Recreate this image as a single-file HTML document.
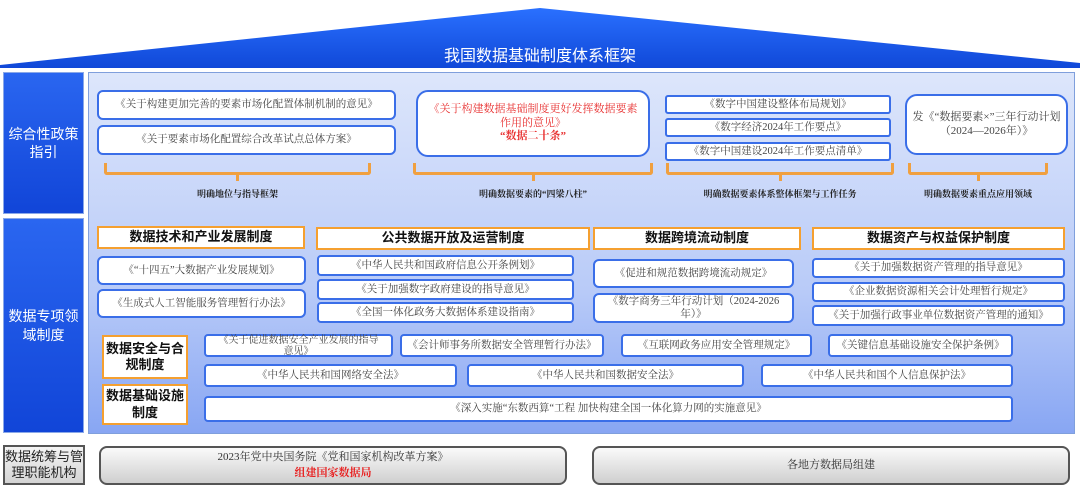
<!DOCTYPE html>
<html><head><meta charset="utf-8"><style>
*{margin:0;padding:0;box-sizing:border-box}
body{width:1080px;height:489px;background:#fff;position:relative;overflow:hidden;font-family:"Liberation Serif","Noto Serif CJK SC",serif;}
.a{position:absolute}
.b{position:absolute;background:#fff;border:2px solid #3a6ee8;border-radius:6px;display:flex;align-items:center;justify-content:center;text-align:center;font-size:10.5px;color:#444;line-height:1.25}
.h{position:absolute;background:#fff;border:2.5px solid #f5a030;display:flex;align-items:center;justify-content:center;text-align:center;font-family:"Liberation Sans","Noto Sans CJK SC",sans-serif;font-weight:bold;font-size:13px;color:#111;line-height:1.25}
.side{position:absolute;background:linear-gradient(#2a66f0,#1145d8);color:#fff;font-family:"Liberation Sans","Noto Sans CJK SC",sans-serif;font-size:14px;display:flex;align-items:center;justify-content:center;text-align:center;line-height:1.3;border:1px solid #8aa8e8}
.br{position:absolute;border:3px solid #f0a040;border-top:none;height:12px;border-radius:0 0 3px 3px}
.br::after{content:"";position:absolute;left:50%;bottom:-9px;width:3px;height:8px;background:#f0a040;margin-left:-1.5px}
.lb{position:absolute;font-size:9px;font-weight:bold;color:#222;text-align:center}
.g{position:absolute;border:2px solid #555;border-radius:8px;background:linear-gradient(#fafafa,#cfcfcf);display:flex;flex-direction:column;align-items:center;justify-content:center;font-size:11px;color:#333;line-height:1.4}
</style></head><body>
<svg class="a" style="left:0;top:0" width="1080" height="70"><defs><linearGradient id="rg" x1="0" y1="0" x2="0" y2="1"><stop offset="0" stop-color="#2a70ff"/><stop offset="1" stop-color="#1048d8"/></linearGradient></defs><polygon points="0,65 540,8 1080,63 1080,68 0,68" fill="url(#rg)"/></svg>
<div class="a" style="left:0;top:42px;width:1080px;text-align:center;color:#fff;font-family:'Liberation Sans','Noto Sans CJK SC',sans-serif;font-size:16px">我国数据基础制度体系框架</div>
<div class="side" style="left:3px;top:72px;width:81px;height:142px">综合性政策<br>指引</div>
<div class="side" style="left:3px;top:218px;width:81px;height:215px">数据专项领<br>域制度</div>
<div class="a" style="left:88px;top:72px;width:987px;height:362px;background:linear-gradient(#dde6fb,#b9cbf8 60%,#88a6f3);border:1px solid #7f9fdc"></div>

<div class="b" style="left:97px;top:90px;width:299px;height:30px">《关于构建更加完善的要素市场化配置体制机制的意见》</div>
<div class="b" style="left:97px;top:125px;width:299px;height:30px">《关于要素市场化配置综合改革试点总体方案》</div>
<div class="br" style="left:104px;top:163px;width:267px"></div>
<div class="lb" style="left:104px;top:187px;width:267px">明确地位与指导框架</div>

<div class="b" style="left:416px;top:90px;width:234px;height:67px;border-radius:12px;color:#e83030;font-size:11px;padding:0 8px"><div>《关于构建数据基础制度更好发挥数据要素作用的意见》<br><b>“数据二十条”</b></div></div>
<div class="br" style="left:413px;top:163px;width:240px"></div>
<div class="lb" style="left:413px;top:187px;width:240px">明确数据要素的“四梁八柱”</div>

<div class="b" style="left:665px;top:95px;width:226px;height:19px;border-radius:3px">《数字中国建设整体布局规划》</div>
<div class="b" style="left:665px;top:118px;width:226px;height:19px;border-radius:3px">《数字经济2024年工作要点》</div>
<div class="b" style="left:665px;top:142px;width:226px;height:19px;border-radius:3px">《数字中国建设2024年工作要点清单》</div>
<div class="br" style="left:666px;top:163px;width:228px"></div>
<div class="lb" style="left:666px;top:187px;width:228px">明确数据要素体系整体框架与工作任务</div>

<div class="b" style="left:905px;top:94px;width:163px;height:61px;border-radius:12px;font-size:11px;padding:0 4px"><div>发《“数据要素×”三年行动计划（2024—2026年）》</div></div>
<div class="br" style="left:908px;top:163px;width:140px"></div>
<div class="lb" style="left:908px;top:187px;width:140px">明确数据要素重点应用领域</div>

<div class="h" style="left:97px;top:226px;width:208px;height:23px">数据技术和产业发展制度</div>
<div class="h" style="left:316px;top:227px;width:274px;height:23px">公共数据开放及运营制度</div>
<div class="h" style="left:593px;top:227px;width:208px;height:23px">数据跨境流动制度</div>
<div class="h" style="left:812px;top:227px;width:253px;height:23px">数据资产与权益保护制度</div>

<div class="b" style="left:97px;top:256px;width:209px;height:29px">《“十四五”大数据产业发展规划》</div>
<div class="b" style="left:97px;top:289px;width:209px;height:29px">《生成式人工智能服务管理暂行办法》</div>
<div class="b" style="left:317px;top:255px;width:257px;height:21px;border-radius:4px">《中华人民共和国政府信息公开条例划》</div>
<div class="b" style="left:317px;top:279px;width:257px;height:21px;border-radius:4px">《关于加强数字政府建设的指导意见》</div>
<div class="b" style="left:317px;top:302px;width:257px;height:21px;border-radius:4px">《全国一体化政务大数据体系建设指南》</div>
<div class="b" style="left:593px;top:259px;width:201px;height:29px">《促进和规范数据跨境流动规定》</div>
<div class="b" style="left:593px;top:293px;width:201px;height:30px;padding:0 10px"><div>《数字商务三年行动计划（2024-2026年）》</div></div>
<div class="b" style="left:812px;top:258px;width:253px;height:20px;border-radius:4px">《关于加强数据资产管理的指导意见》</div>
<div class="b" style="left:812px;top:282px;width:253px;height:20px;border-radius:4px">《企业数据资源相关会计处理暂行规定》</div>
<div class="b" style="left:812px;top:305px;width:253px;height:21px;border-radius:4px">《关于加强行政事业单位数据资产管理的通知》</div>

<div class="h" style="left:102px;top:335px;width:86px;height:44px">数据安全与合规制度</div>
<div class="h" style="left:102px;top:384px;width:86px;height:41px">数据基础设施制度</div>
<div class="b" style="left:204px;top:334px;width:189px;height:23px;border-radius:4px;font-size:10px;line-height:1.1;padding:0 12px"><div>《关于促进数据安全产业发展的指导意见》</div></div>
<div class="b" style="left:400px;top:334px;width:204px;height:23px;border-radius:4px">《会计师事务所数据安全管理暂行办法》</div>
<div class="b" style="left:621px;top:334px;width:191px;height:23px;border-radius:4px">《互联网政务应用安全管理规定》</div>
<div class="b" style="left:828px;top:334px;width:185px;height:23px;border-radius:4px">《关键信息基础设施安全保护条例》</div>
<div class="b" style="left:204px;top:364px;width:253px;height:23px;border-radius:4px">《中华人民共和国网络安全法》</div>
<div class="b" style="left:467px;top:364px;width:277px;height:23px;border-radius:4px">《中华人民共和国数据安全法》</div>
<div class="b" style="left:761px;top:364px;width:252px;height:23px;border-radius:4px">《中华人民共和国个人信息保护法》</div>
<div class="b" style="left:204px;top:396px;width:809px;height:26px;border-radius:4px">《深入实施“东数西算“工程 加快构建全国一体化算力网的实施意见》</div>

<div class="a" style="left:3px;top:445px;width:82px;height:40px;border:2px solid #555;background:linear-gradient(#f4f4f4,#d4d4d4);font-family:'Liberation Sans','Noto Sans CJK SC',sans-serif;font-size:13px;color:#222;display:flex;align-items:center;justify-content:center;text-align:center;line-height:1.2">数据统筹与管理职能机构</div>
<div class="g" style="left:99px;top:446px;width:468px;height:39px"><div>2023年党中央国务院《党和国家机构改革方案》</div><div style="color:#e82020;font-weight:bold">组建国家数据局</div></div>
<div class="g" style="left:592px;top:446px;width:478px;height:39px">各地方数据局组建</div>
</body></html>
